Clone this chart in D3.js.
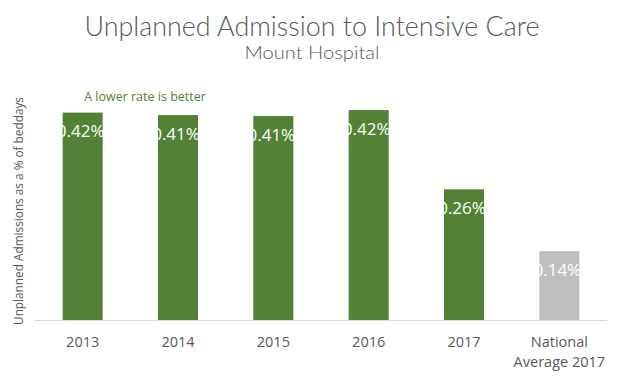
<!DOCTYPE html>
<html><head><meta charset="utf-8">
<script src="https://cdn.jsdelivr.net/npm/d3@7/dist/d3.min.js"></script>
<style>body{margin:0;background:#fff}svg{display:block}</style>
</head><body>
<svg id="c" width="622" height="378"></svg>
<script>
const categories = ["2013","2014","2015","2016","2017","National Average 2017"];
const values = [0.419, 0.414, 0.412, 0.424, 0.264, 0.139];
const isNational = [false,false,false,false,false,true];
const title = "Unplanned Admission to Intensive Care";
const subtitle = "Mount Hospital";
const note = "A lower rate is better";
const yTitle = "Unplanned Admissions as a % of beddays";

const svg = d3.select("#c");
const base = 320;
const x = d3.scaleBand().domain(categories).range([35, 607]).paddingInner(0.58).paddingOuter(0.29);
const y = d3.scaleLinear().domain([0, 0.5]).range([base, base - 247.5]);

svg.append("text").attr("x", 312).attr("y", 36).attr("text-anchor","middle")
  .attr("font-family","Lato, 'DejaVu Sans', sans-serif").attr("font-weight",300)
  .attr("font-size",28).attr("fill","#595959").text(title)
  .attr("textLength",455).attr("lengthAdjust","spacingAndGlyphs");
svg.append("text").attr("x", 312).attr("y", 59).attr("text-anchor","middle")
  .attr("font-family","Lato, 'DejaVu Sans', sans-serif").attr("font-weight",300)
  .attr("font-size",18).attr("fill","#595959").text(subtitle)
  .attr("textLength",135).attr("lengthAdjust","spacingAndGlyphs");

svg.append("text").attr("x", 145).attr("y", 101).attr("text-anchor","middle")
  .attr("font-family","'Open Sans', sans-serif").attr("font-size",12.5)
  .attr("fill","#548235").text(note);

svg.append("text").attr("transform","translate(23,211) rotate(-90)").attr("text-anchor","middle")
  .attr("font-family","'Open Sans', sans-serif").attr("font-size",11.8)
  .attr("fill","#595959").text(yTitle);

svg.append("line").attr("x1",35).attr("x2",607).attr("y1",base+0.5).attr("y2",base+0.5)
  .attr("stroke","#d9d9d9").attr("stroke-width",1);

const g = svg.append("g");
g.selectAll("rect").data(categories).join("rect")
  .attr("x", d => x(d)).attr("width", x.bandwidth())
  .attr("y", (d,i) => y(values[i])).attr("height", (d,i) => base - y(values[i]))
  .attr("fill", (d,i) => isNational[i] ? "#bfbfbf" : "#538135");

const fmt = d3.format(".2f");
g.selectAll("text.v").data(categories).join("text").attr("class","v")
  .attr("x", d => x(d) + x.bandwidth()/2 - 2).attr("y", (d,i) => y(values[i]) + 24.5)
  .attr("text-anchor","middle").attr("font-family","'Open Sans', sans-serif")
  .attr("font-size",17).attr("fill","#fff").text((d,i) => fmt(values[i]) + "%");

const xl = g.selectAll("text.x").data(categories).join("text").attr("class","x")
  .attr("text-anchor","middle").attr("font-family","'Open Sans', sans-serif")
  .attr("font-size",14.5).attr("fill","#595959")
  .attr("transform", d => `translate(${x(d)+x.bandwidth()/2},347)`);
xl.each(function(d){
  const t = d3.select(this);
  const lines = d === "National Average 2017" ? ["National","Average 2017"] : [d];
  lines.forEach((l,i) => t.append("tspan").attr("x",0).attr("dy", i ? 20 : 0).text(l));
});
</script>
</body></html>
